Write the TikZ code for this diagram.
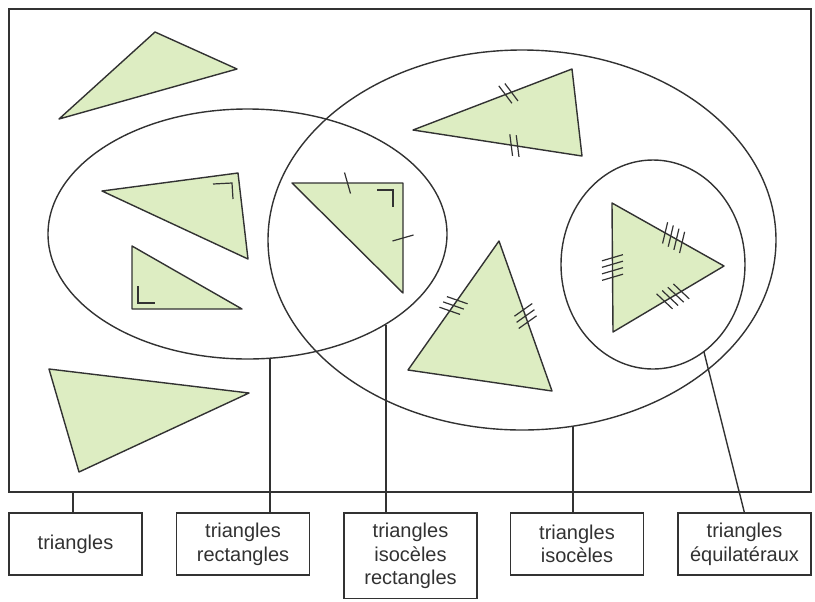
\documentclass[tikz,border=0pt]{standalone}
\usepackage{fontspec}
\setmainfont{Liberation Sans}
\definecolor{leaf}{RGB}{221,237,194}
\definecolor{ink}{RGB}{50,50,50}

\begin{document}
\begin{tikzpicture}[x=0.5pt, y=-0.5pt, line width=0.7pt, color=ink,
    tri/.style={draw=ink, fill=leaf, line join=round},
    hatch/.style={line width=0.6pt},
    lbl/.style={draw=ink, align=center, anchor=north, outer sep=0pt,
      minimum width=66.5pt, minimum height=31pt, inner ysep=5pt,
      font=\fontsize{10}{11.75}\selectfont},
    ticks/.pic={\foreach \k in {1,...,#1}
      \draw[hatch] ({(\k-(#1+1)/2)*6.5-3},-10.5) -- ++(6,21);}]
  \useasboundingbox (0,0) rectangle (815,601);
  \draw (9,9) rectangle (811,492);

  % sets
  \draw (247.5,234) ellipse [x radius=199.5, y radius=125];
  \draw (522,240) ellipse [x radius=254, y radius=190];
  \draw (653,264.5) ellipse [x radius=92, y radius=104.5];

  % triangles
  \draw[tri] (59,119) -- (155,32) -- (237,69) -- cycle;
  \draw[tri] (49,369) -- (249,393) -- (79,472) -- cycle;
  \draw[tri] (102,191) -- (238,173) -- (248,259) -- cycle;
  \draw[hatch] (213,184) -- (232,183) -- (233,199);
  \draw[tri] (132,246) -- (132,309) -- (242,309) -- cycle;
  \draw[hatch] (138,286) -- (138,303) -- (155,303);
  \draw[tri] (292,183) -- (403,183) -- (403,293) -- cycle;
  \draw[hatch] (377,190) -- (393,190) -- (393,207);
  \path (292,183) -- (403,183) pic[pos=.5, sloped]{ticks=1};
  \path (403,183) -- (403,293) pic[pos=.5, sloped]{ticks=1};
  \draw[tri] (413,130) -- (572,69) -- (582,156) -- cycle;
  \path (413,130) -- (572,69) pic[pos=.6, sloped]{ticks=2};
  \path (413,130) -- (582,156) pic[pos=.6, sloped]{ticks=2};
  \draw[tri] (408,370) -- (499,241) -- (552,391) -- cycle;
  \path (408,370) -- (499,241) pic[pos=.5, sloped]{ticks=3};
  \path (499,241) -- (552,391) pic[pos=.5, sloped]{ticks=3};
  \draw[tri] (612,203) -- (724,266) -- (613,332) -- cycle;
  \path (612,203) -- (724,266) pic[pos=.55, sloped]{ticks=4};
  \path (724,266) -- (613,332) pic[pos=.46, sloped]{ticks=4};
  \path (613,332) -- (612,203) pic[pos=.5, sloped]{ticks=4};

  % labels
  \node[lbl] (b1) at (75.5,513) {triangles};
  \node[lbl] (b2) at (243,513) {triangles\\rectangles};
  \node[lbl] (b3) at (410.5,513) {triangles\\isocèles\\rectangles};
  \node[lbl] (b4) at (577,513) {triangles\\isocèles};
  \node[lbl] (b5) at (744.5,513) {triangles\\équilatéraux};

  \coordinate (c1) at (73,492);
  \coordinate (c2) at (270,358);
  \coordinate (c3) at (386,325);
  \coordinate (c4) at (573,426);
  \coordinate (c5) at (704,352);
  \draw (c1) -- (c1 |- b1.north);
  \draw (c2) -- (c2 |- b2.north);
  \draw (c3) -- (c3 |- b3.north);
  \draw (c4) -- (c4 |- b4.north);
  \draw (c5) -- (b5.north);
\end{tikzpicture}
\end{document}
